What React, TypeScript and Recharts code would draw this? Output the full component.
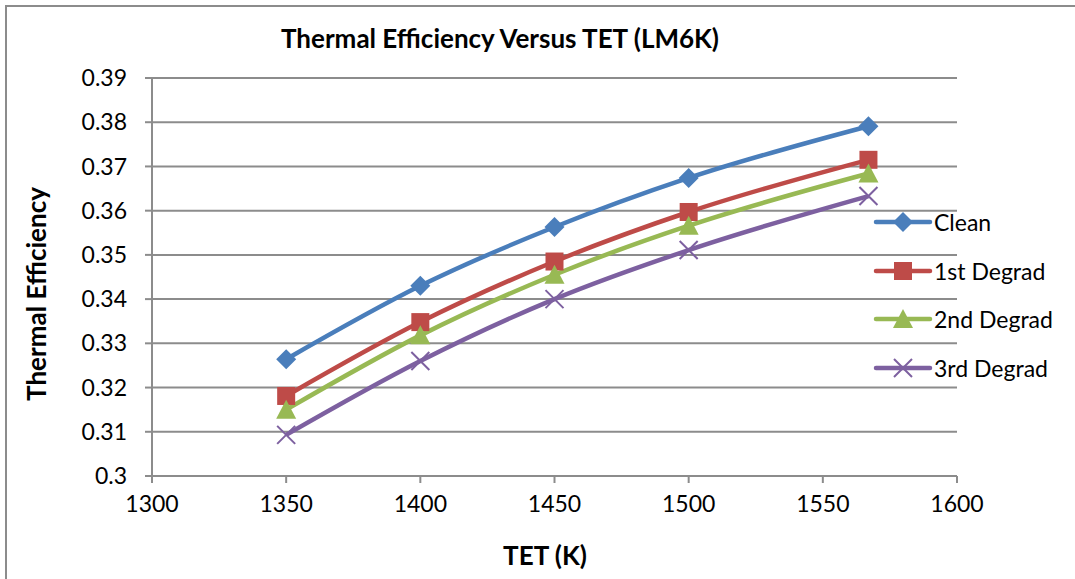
import { CartesianGrid, Line, LineChart, XAxis, YAxis } from 'recharts';

const tet = [1350, 1400, 1450, 1500, 1567];
const clean = [0.3264, 0.343, 0.3563, 0.3674, 0.3791];
const degrad1 = [0.3181, 0.3348, 0.3485, 0.3597, 0.3715];
const degrad2 = [0.315, 0.3318, 0.3455, 0.3566, 0.3684];
const degrad3 = [0.3093, 0.326, 0.34, 0.3511, 0.3633];
const xTicks = [1300, 1350, 1400, 1450, 1500, 1550, 1600];
const yTicks = [0.3, 0.31, 0.32, 0.33, 0.34, 0.35, 0.36, 0.37, 0.38, 0.39];

const series = [
  { key: 'clean', name: 'Clean', color: '#4a7ebb', shape: 'diamond' },
  { key: 'd1', name: '1st Degrad', color: '#be4b48', shape: 'square' },
  { key: 'd2', name: '2nd Degrad', color: '#98b954', shape: 'triangle' },
  { key: 'd3', name: '3rd Degrad', color: '#7d60a0', shape: 'x' },
];

const rows = tet.map((t, i) => ({
  tet: t,
  clean: clean[i],
  d1: degrad1[i],
  d2: degrad2[i],
  d3: degrad3[i],
}));

const FONT = 'Lato, "Open Sans", sans-serif';
const GRID = '#8c8c8c';

function Marker({ shape, color, cx, cy }: { shape: string; color: string; cx: number; cy: number }) {
  const r = 9;
  if (shape === 'diamond')
    return <path d={`M${cx},${cy - r - 1} L${cx + r + 1},${cy} L${cx},${cy + r + 1} L${cx - r - 1},${cy} Z`} fill={color} />;
  if (shape === 'square')
    return <rect x={cx - r} y={cy - r} width={2 * r} height={2 * r} fill={color} />;
  if (shape === 'triangle')
    return <path d={`M${cx},${cy - r - 1} L${cx + r + 1},${cy + r} L${cx - r - 1},${cy + r} Z`} fill={color} />;
  return (
    <path
      d={`M${cx - r},${cy - r} L${cx + r},${cy + r} M${cx + r},${cy - r} L${cx - r},${cy + r}`}
      stroke={color}
      strokeWidth={2}
      fill="none"
    />
  );
}

function LegendBox() {
  return (
    <div style={{ position: 'absolute', left: 873, top: 198, fontFamily: FONT, fontSize: 23, color: '#000' }}>
      {series.map((s) => (
        <div key={s.key} style={{ display: 'flex', alignItems: 'center', height: 48.5 }}>
          <svg width={60} height={24}>
            <line x1={3} y1={12} x2={57} y2={12} stroke={s.color} strokeWidth={4.5} strokeLinecap="round" />
            <Marker shape={s.shape} color={s.color} cx={30} cy={12} />
          </svg>
          <span style={{ marginLeft: 1 }}>{s.name}</span>
        </div>
      ))}
    </div>
  );
}

const titleStyle = {
  position: 'absolute' as const,
  textAlign: 'center' as const,
  fontFamily: FONT,
  fontWeight: 'bold' as const,
  fontSize: 26,
};

export default function App() {
  return (
    <div style={{ position: 'absolute', left: 0, top: 0, width: 1075, height: 579, background: '#fff', overflow: 'hidden' }}>
      <div
        style={{
          position: 'absolute',
          left: 5,
          top: 5,
          width: 1100,
          height: 600,
          border: '2px solid #8c8c8c',
          boxSizing: 'border-box',
        }}
      />
      <LineChart width={1075} height={579} data={rows} margin={{ top: 78, right: 118, bottom: 43, left: 22 }}>
        <CartesianGrid vertical={false} stroke={GRID} strokeWidth={2} />
        <XAxis
          dataKey="tet"
          type="number"
          domain={[1300, 1600]}
          ticks={xTicks}
          interval={0}
          height={60}
          stroke={GRID}
          strokeWidth={2}
          tickSize={7}
          tickMargin={13}
          tick={{ fill: '#000', fontSize: 23, fontFamily: FONT }}
        />
        <YAxis
          type="number"
          domain={[0.3, 0.39]}
          ticks={yTicks}
          interval={0}
          width={130}
          stroke={GRID}
          strokeWidth={2}
          tickSize={7}
          tickMargin={18}
          tickFormatter={(v: number) => String(Number(v.toFixed(2)))}
          tick={{ fill: '#000', fontSize: 23, fontFamily: FONT }}
        />
        {series.map((s) => (
          <Line
            key={s.key}
            type="monotone"
            dataKey={s.key}
            name={s.name}
            stroke={s.color}
            strokeWidth={4.5}
            isAnimationActive={false}
            dot={(p: any) => <Marker key={`${s.key}-${p.index}`} shape={s.shape} color={s.color} cx={p.cx} cy={p.cy} />}
            activeDot={false}
          />
        ))}
      </LineChart>
      <LegendBox />
      <div style={{ ...titleStyle, left: 0, width: 1000, top: 22 }}>Thermal Efficiency Versus TET (LM6K)</div>
      <div style={{ ...titleStyle, left: 445, width: 200, top: 539 }}>TET (K)</div>
      <div style={{ ...titleStyle, left: 36 - 150, width: 300, top: 295 - 17, transform: 'rotate(-90deg)' }}>
        Thermal Efficiency
      </div>
    </div>
  );
}
